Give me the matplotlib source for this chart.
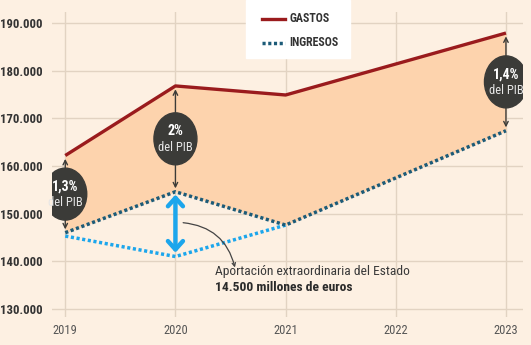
import numpy as np
import matplotlib
matplotlib.use("Agg")
import matplotlib.pyplot as plt
from matplotlib.patches import Ellipse, Rectangle
from matplotlib.lines import Line2D

plt.rcParams['font.family'] = ['Roboto Condensed', 'Liberation Sans Narrow', 'Roboto', 'DejaVu Sans']

# ____ datos (millones de euros)
years = [2019, 2020, 2021, 2022, 2023]
gastos = [162.2, 176.8, 174.9, 181.4, 187.9]
ingresos = [146.0, 154.6, 147.6, 157.5, 167.4]
ingresos_sin = [145.3, 141.0, 147.6]   # sin aportacion extraordinaria (2019-2021)
years_sin = [2019, 2020, 2021]
pib_years = [2019, 2020, 2023]
pib_labels = ["1,3%", "2%", "1,4%"]
yticks = [130, 140, 150, 160, 170, 180, 190]

bg = '#fdf0e2'
fill_col = '#fdd3ad'
red = '#9a1b1d'
dark_blue = '#1c5b78'
light_blue = '#1ca6ec'
grid_col = '#e2d3c2'
circle_col = '#3b3b38'
dots = (0, (0.9, 0.75))

fig = plt.figure(figsize=(5.31, 3.45), dpi=100, facecolor=bg)
ax = fig.add_axes([0.098, 0.081, 0.887, 0.884])
ax.set_facecolor(bg)

ax.set_xlim(2018.88, 2023.155)
ax.set_ylim(128.3, 192.3)

for y in yticks:
    ax.axhline(y, color=grid_col, lw=1.0, zorder=0)
for x in years:
    ax.axvline(x, color=grid_col, lw=1.0, zorder=0)

ax.fill_between(years, ingresos, gastos, color=fill_col, lw=0, zorder=1)

ax.plot(years, gastos, color=red, lw=2.4, solid_capstyle='butt', zorder=4)
ax.plot(years_sin, ingresos_sin, color=light_blue, lw=2.5, ls=dots,
        dash_capstyle='butt', zorder=3)
ax.plot(years, ingresos, color=dark_blue, lw=2.5, ls=dots,
        dash_capstyle='butt', zorder=4)

# circulos % del PIB con flechas
for yr, lab in zip(pib_years, pib_labels):
    i = years.index(yr)
    g, ing = gastos[i], ingresos[i]
    ax.annotate("", xy=(yr, g - 0.7), xytext=(yr, ing + 0.7),
                arrowprops=dict(arrowstyle='<->', color=circle_col, lw=1.0,
                                shrinkA=0, shrinkB=0, mutation_scale=8), zorder=5)
    mid = (g + ing) / 2
    ax.add_patch(Ellipse((yr, mid), 0.39, 10.9, color=circle_col, zorder=6))
    ax.text(yr, mid + 1.6, lab, color='white', fontsize=10, fontweight='bold',
            ha='center', va='center', zorder=7)
    ax.text(yr, mid - 1.8, "del PIB", color='#e6e6e6', fontsize=9,
            ha='center', va='center', zorder=7)

# aportacion extraordinaria
ax.annotate("", xy=(2020, ingresos[1] - 0.6), xytext=(2020, ingresos_sin[1] + 0.8),
            arrowprops=dict(arrowstyle='<->,head_length=0.5,head_width=0.45',
                            color=light_blue, lw=3.2, shrinkA=0, shrinkB=0,
                            mutation_scale=12), zorder=5)
ax.annotate("", xy=(2020.54, 138.7), xytext=(2020.07, 148.1),
            arrowprops=dict(arrowstyle='->', color='#444444', lw=0.9,
                            connectionstyle='arc3,rad=-0.35', mutation_scale=6,
                            shrinkA=0, shrinkB=0), zorder=5)
ax.text(2020.36, 137.8, "Aportación extraordinaria del Estado", fontsize=9.7,
        color='#3a3a3a', ha='left', va='center', zorder=5)
ax.text(2020.36, 134.4, "14.500 millones de euros", fontsize=9.7, fontweight='bold',
        color='#2a2a2a', ha='left', va='center', zorder=5)

# ejes
ax.set_xticks(years)
ax.set_xticklabels([str(y) for y in years], fontsize=9, color='#555555')
ax.set_yticks(yticks)
ax.set_yticklabels(["{:.3f}".format(y) for y in yticks], fontsize=9.2,
                   color='#333333', fontweight='bold')
ax.tick_params(length=0, pad=5)
ax.tick_params(axis='y', pad=7)
for s in ax.spines.values():
    s.set_visible(False)

# leyenda
fig.add_artist(Rectangle((246 / 531, 1 - 58 / 345), 104 / 531, 58 / 345,
                         transform=fig.transFigure, color='white', zorder=10))
fig.add_artist(Line2D([262 / 531, 285 / 531], [1 - 19 / 345] * 2, transform=fig.transFigure,
                      color=red, lw=2.4, zorder=11))
fig.add_artist(Line2D([262 / 531, 285 / 531], [1 - 43 / 345] * 2, transform=fig.transFigure,
                      color=dark_blue, lw=2.5, ls=dots, zorder=11))
fig.text(289 / 531, 1 - 19 / 345, "GASTOS", fontsize=8.6, fontweight='bold', color='#333333',
         va='center', zorder=11)
fig.text(289 / 531, 1 - 43 / 345, "INGRESOS", fontsize=8.6, fontweight='bold', color='#333333',
         va='center', zorder=11)

fig.savefig("out.png", dpi=100, facecolor=bg)
